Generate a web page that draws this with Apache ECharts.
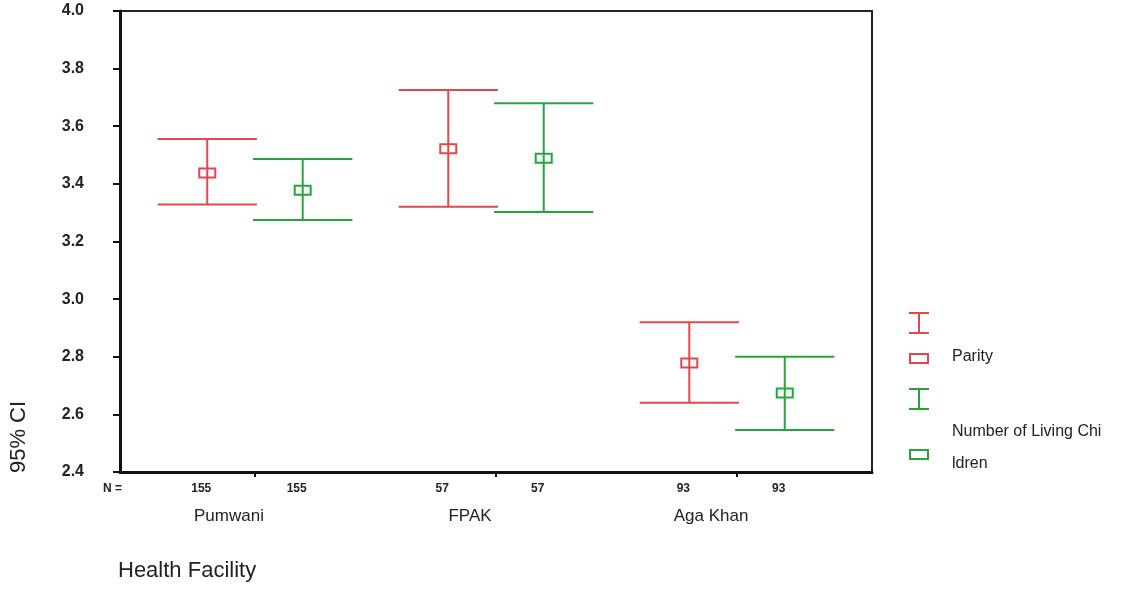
<!DOCTYPE html>
<html>
<head>
<meta charset="utf-8">
<script src="https://cdn.jsdelivr.net/npm/echarts@6/dist/echarts.min.js"></script>
<style>
html,body{margin:0;padding:0;background:#fff;}
#chart{width:1136px;height:590px;}
</style>
</head>
<body>
<div id="chart"></div>
<script>
// ---- data ----
const categories = ['Pumwani', 'FPAK', 'Aga Khan'];
const parityMean = [3.438, 3.522, 2.778];
const parityLow  = [3.328, 3.321, 2.640];
const parityHigh = [3.556, 3.726, 2.920];
const parityN    = [155, 57, 93];
const livingMean = [3.378, 3.489, 2.674];
const livingLow  = [3.275, 3.302, 2.546];
const livingHigh = [3.486, 3.680, 2.800];
const livingN    = [155, 57, 93];
const yMin = 2.4, yMax = 4.0, yStep = 0.2;
const seriesNames = ['Parity', 'Number of Living Children'];

const RED = '#e2474b';
const GREEN = '#26a53e';
const TXT = '#222';
const FONT = 'Liberation Sans, Arial, sans-serif';

const OFFSET = 0.198;    // cluster offset (in category units)
const CAP_HALF = 0.206;  // half cap width (in category units)

function buildData(low, high, mean, n) {
  return categories.map((c, i) => [i, low[i], high[i], mean[i], n[i]]);
}

function makeRender(offset, color, showCat) {
  return function (params, api) {
    const i = api.value(0), lo = api.value(1), hi = api.value(2), m = api.value(3), n = api.value(4);
    const x = i + offset;
    const pHi = api.coord([x, hi]);
    const pLo = api.coord([x, lo]);
    const pM = api.coord([x, m]);
    const xl = api.coord([x - CAP_HALF, hi])[0];
    const xr = api.coord([x + CAP_HALF, hi])[0];
    const base = api.coord([x, yMin])[1];
    const ls = { stroke: color, lineWidth: 2 };
    const children = [
      { type: 'line', shape: { x1: pHi[0], y1: pHi[1], x2: pLo[0], y2: pLo[1] }, style: ls },
      { type: 'line', shape: { x1: xl, y1: pHi[1], x2: xr, y2: pHi[1] }, style: ls },
      { type: 'line', shape: { x1: xl, y1: pLo[1], x2: xr, y2: pLo[1] }, style: ls },
      { type: 'rect', shape: { x: pM[0] - 8, y: pM[1] - 4.5, width: 16, height: 9 }, style: { fill: 'none', stroke: color, lineWidth: 2 } },
      { type: 'text', style: { text: String(n), x: pM[0] - 6, y: base + 16.5, align: 'center', verticalAlign: 'middle', font: 'bold 12px ' + FONT, fill: TXT } }
    ];
    if (showCat) {
      const gc = api.coord([i, yMin]);
      children.push({ type: 'text', style: { text: categories[params.dataIndex], x: gc[0] - 26, y: base + 44, align: 'center', verticalAlign: 'middle', font: '17px ' + FONT, fill: TXT } });
    }
    return { type: 'group', children: children };
  };
}

function legendBar(x, y, color) {
  return [
    { type: 'line', shape: { x1: x + 10, y1: y, x2: x + 10, y2: y + 20 }, style: { stroke: color, lineWidth: 2 } },
    { type: 'line', shape: { x1: x, y1: y, x2: x + 20, y2: y }, style: { stroke: color, lineWidth: 2 } },
    { type: 'line', shape: { x1: x, y1: y + 20, x2: x + 20, y2: y + 20 }, style: { stroke: color, lineWidth: 2 } }
  ];
}
function legendBox(x, y, color) {
  return { type: 'rect', shape: { x: x + 1, y: y, width: 18, height: 9 }, style: { fill: 'none', stroke: color, lineWidth: 2 } };
}
function txt(t, x, y, font, align) {
  return { type: 'text', style: { text: t, x: x, y: y, font: font, fill: TXT, align: align || 'left', verticalAlign: 'middle' } };
}

const chart = echarts.init(document.getElementById('chart'), null, { renderer: 'canvas' });
chart.setOption({
  backgroundColor: '#ffffff',
  animation: false,
  grid: { left: 120, right: 264, top: 11, bottom: 118, show: true, borderColor: '#222', borderWidth: 2, backgroundColor: 'transparent' },
  xAxis: {
    type: 'value', min: -0.56, max: 2.56,
    axisLine: { show: true, onZero: false, lineStyle: { color: '#111', width: 3 } },
    axisTick: { show: true, customValues: [0, 1, 2], length: 5, lineStyle: { color: '#111', width: 2 } },
    axisLabel: { show: false },
    splitLine: { show: false }
  },
  yAxis: {
    type: 'value', min: yMin, max: yMax, interval: yStep,
    axisLine: { show: true, onZero: false, lineStyle: { color: '#111', width: 3 } },
    axisTick: { show: true, length: 7, lineStyle: { color: '#111', width: 2 } },
    axisLabel: { margin: 36, color: TXT, fontSize: 16, fontWeight: 'bold', fontFamily: FONT, formatter: v => v.toFixed(1) },
    splitLine: { show: false }
  },
  series: [
    { name: seriesNames[0], type: 'custom', renderItem: makeRender(-OFFSET, RED, true), data: buildData(parityLow, parityHigh, parityMean, parityN), encode: { x: 0, y: [1, 2, 3] }, clip: false },
    { name: seriesNames[1], type: 'custom', renderItem: makeRender(OFFSET, GREEN, false), data: buildData(livingLow, livingHigh, livingMean, livingN), encode: { x: 0, y: [1, 2, 3] }, clip: false }
  ],
  graphic: [
    { type: 'text', x: 19, y: 437, rotation: Math.PI / 2,
      style: { text: '95% CI', x: 0, y: 0, font: '22px ' + FONT, fill: TXT, align: 'center', verticalAlign: 'middle' } },
    txt('Health Facility', 118, 571, '22px ' + FONT),
    txt('N =', 122, 489, 'bold 12px ' + FONT, 'right'),
    ...legendBar(909, 313, RED),
    legendBox(909, 354, RED),
    txt('Parity', 952, 357, '16px ' + FONT),
    ...legendBar(909, 389, GREEN),
    txt('Number of Living Chi', 952, 432, '16px ' + FONT),
    legendBox(909, 450, GREEN),
    txt('ldren', 952, 464, '16px ' + FONT)
  ]
});
</script>
</body>
</html>
